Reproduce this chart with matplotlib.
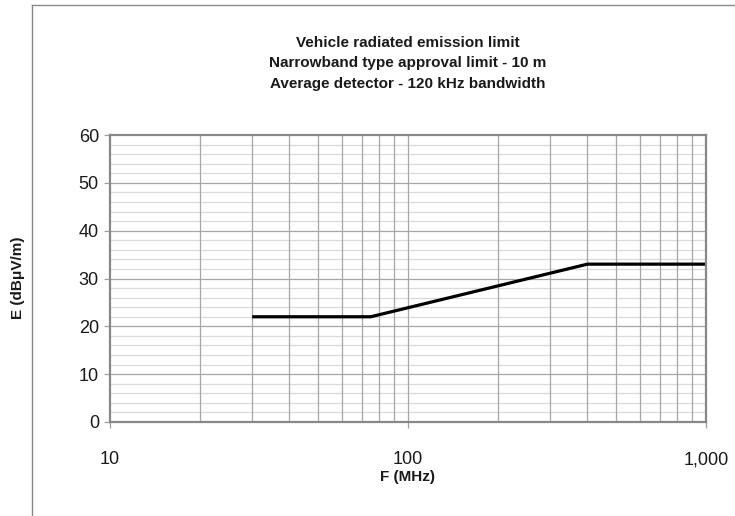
import matplotlib
matplotlib.use('Agg')
import matplotlib.pyplot as plt
from matplotlib.lines import Line2D
from matplotlib.ticker import FixedLocator, FuncFormatter, NullFormatter

plt.rcParams['font.family'] = ['Liberation Sans Narrow', 'Liberation Sans', 'DejaVu Sans']

# narrowband type approval limit, 10 m antenna distance
freq_mhz = [30, 75, 400, 1000]
limit_dbuv = [22, 22, 33, 33]

x_major = [10, 100, 1000]
x_minor = [20, 30, 40, 50, 60, 70, 80, 90, 200, 300, 400, 500, 600, 700, 800, 900]
y_major = [0, 10, 20, 30, 40, 50, 60]
y_minor = [v for v in range(0, 61, 2) if v % 10]

title_lines = ['Vehicle radiated emission limit',
               'Narrowband type approval limit - 10 m',
               'Average detector - 120 kHz bandwidth']

W, H = 735, 516
fig = plt.figure(figsize=(W / 100, H / 100), dpi=100)
ax = fig.add_axes([110 / W, 1 - 422 / H, (706 - 110) / W, (422 - 135) / H])

ax.set_xscale('log')
ax.set_xlim(10, 1000)
ax.set_ylim(0, 60)

# grid: light lines every 2 dB, darker every decade step and 10 dB
for v in y_minor:
    ax.axhline(v, color='#dadada', lw=0.9, zorder=1)
for v in y_major[1:-1]:
    ax.axhline(v, color='#a6a6a6', lw=0.9, zorder=1.5)
for v in x_minor + [100]:
    ax.axvline(v, color='#a6a6a6', lw=0.9, zorder=1.5)

ax.plot(freq_mhz, limit_dbuv, color='black', lw=2.3, zorder=3,
        solid_capstyle='butt')

ax.xaxis.set_major_locator(FixedLocator(x_major))
ax.xaxis.set_minor_locator(FixedLocator([]))
ax.xaxis.set_minor_formatter(NullFormatter())
ax.xaxis.set_major_formatter(FuncFormatter(lambda v, p: f'{v:,.0f}'))
ax.yaxis.set_major_locator(FixedLocator(y_major))

tick_font = {'family': ['Liberation Sans', 'DejaVu Sans'], 'size': 13}
for lab in ax.get_xticklabels() + ax.get_yticklabels():
    lab.set_fontfamily(tick_font['family'])
    lab.set_fontsize(tick_font['size'])
ax.tick_params(axis='x', direction='out', length=4, width=0.9, color='#a0a0a0',
               pad=17, labelcolor='#1a1a1a')
ax.tick_params(axis='y', direction='out', length=4, width=0.9, color='#a0a0a0',
               pad=4, labelcolor='#1a1a1a')

for sp in ax.spines.values():
    sp.set_color('#888888')
    sp.set_linewidth(1.6)
    sp.set_zorder(4)

# frame around the chart area
fig.add_artist(Line2D([32 / W, 32 / W], [0, 1 - 5 / H], color='#8a8a8a', lw=1.0))
fig.add_artist(Line2D([32 / W, 1], [1 - 5 / H, 1 - 5 / H], color='#8a8a8a', lw=1.0))

for i, line in enumerate(title_lines):
    fig.text(408 / W, 1 - (43 + 20.5 * i) / H, line, ha='center', va='center',
             fontsize=11, fontweight='bold', color='#1a1a1a')

fig.text(408 / W, 1 - 477 / H, 'F (MHz)', ha='center', va='center',
         fontsize=11, fontweight='bold', color='#1a1a1a')
fig.text(18 / W, 1 - 278 / H, 'E (dBμV/m)', ha='center', va='center',
         rotation=90, fontsize=11, fontweight='bold', color='#1a1a1a')

fig.savefig('out.png', dpi=100, facecolor='white')
